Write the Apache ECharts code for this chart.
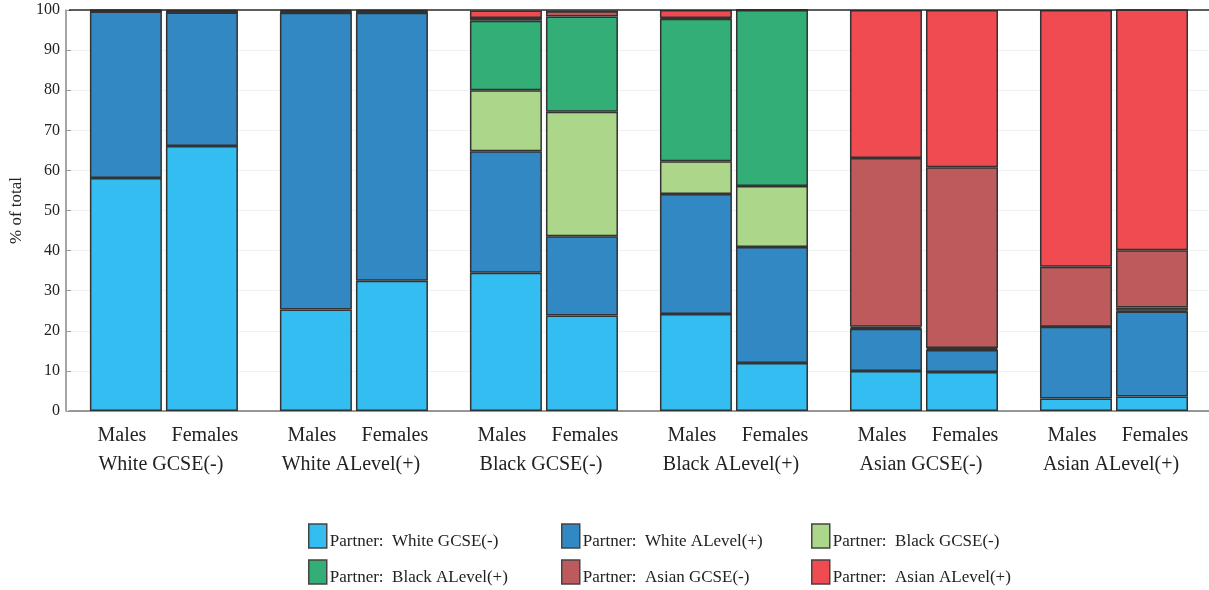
<!DOCTYPE html>
<html>
<head>
<meta charset="utf-8">
<script src="https://cdn.jsdelivr.net/npm/echarts@6/dist/echarts.min.js"></script>
<style>
  html, body { margin: 0; padding: 0; background: #fff; }
  #chart { width: 1209px; height: 590px; }
</style>
</head>
<body>
<div id="chart"></div>
<script>
// Respondent groups (x-axis) and the two sexes shown inside each group
const groups = ['White GCSE(-)', 'White ALevel(+)', 'Black GCSE(-)', 'Black ALevel(+)', 'Asian GCSE(-)', 'Asian ALevel(+)'];
const sexes = ['Males', 'Females'];

// Partner categories (stack order, bottom to top)
const partners = ['Partner: White GCSE(-)', 'Partner: White ALevel(+)', 'Partner: Black GCSE(-)',
                  'Partner: Black ALevel(+)', 'Partner: Asian GCSE(-)', 'Partner: Asian ALevel(+)'];

// % of total, one value per group, males
const malesWhiteGCSE   = [58.1, 25.3, 34.5, 24.2, 10.0,  3.1];
const malesWhiteALevel = [41.5, 74.0, 30.3, 29.9, 10.5, 17.9];
const malesBlackGCSE   = [ 0.1,  0.1, 15.2,  8.2,  0.2,  0.0];
const malesBlackALevel = [ 0.1,  0.2, 17.3, 35.5,  0.3,  0.0];
const malesAsianGCSE   = [ 0.1,  0.2,  0.7,  0.2, 42.1, 15.0];
const malesAsianALevel = [ 0.1,  0.2,  1.9,  2.0, 36.9, 64.0];

// % of total, one value per group, females
const femalesWhiteGCSE   = [66.1, 32.5, 23.8, 12.0,  9.7,  3.6];
const femalesWhiteALevel = [33.3, 66.8, 19.8, 28.9,  5.5, 21.2];
const femalesBlackGCSE   = [ 0.1,  0.1, 31.0, 15.2,  0.2,  0.2];
const femalesBlackALevel = [ 0.1,  0.2, 23.8, 43.9,  0.3,  0.8];
const femalesAsianGCSE   = [ 0.2,  0.2,  1.3,  0.0, 45.1, 14.3];
const femalesAsianALevel = [ 0.2,  0.2,  0.0,  0.0, 39.2, 60.1];

// y-axis ticks
const yTicks = [0, 10, 20, 30, 40, 50, 60, 70, 80, 90, 100];

const colors = ['#33bdf0', '#3288c3', '#acd68a', '#33ae76', '#bc5a5c', '#ef4b51'];
const males = [malesWhiteGCSE, malesWhiteALevel, malesBlackGCSE, malesBlackALevel, malesAsianGCSE, malesAsianALevel];
const females = [femalesWhiteGCSE, femalesWhiteALevel, femalesBlackGCSE, femalesBlackALevel, femalesAsianGCSE, femalesAsianALevel];

const serif = 'Liberation Serif';

function makeSeries(stack, values, withTopLine) {
  return partners.map((name, i) => {
    const s = {
      name: name,
      type: 'bar',
      stack: stack,
      data: values[i],
      barWidth: 72,
      barGap: '5.6%',
      itemStyle: { color: colors[i], borderColor: '#333', borderWidth: 1.5, opacity: 1 },
      emphasis: { disabled: true }
    };
    if (withTopLine && i === 0) {
      s.markLine = {
        silent: true, symbol: 'none', label: { show: false },
        lineStyle: { color: '#2a2a2a', width: 1.5, type: 'solid' },
        data: [{ yAxis: yTicks[yTicks.length - 1] }]
      };
    }
    return s;
  });
}

// Legend laid out as a 3 x 2 table, one legend component per entry;
// the text sits low against its swatch, so an empty spacer line goes above it
const legendCols = [308, 561, 811];
const legendRows = [521, 557];
const legends = partners.map((name, i) => ({
  left: legendCols[i % 3],
  top: legendRows[Math.floor(i / 3)],
  padding: 0,
  itemWidth: 18,
  itemHeight: 24,
  itemGap: 0,
  icon: 'rect',
  data: [name],
  selectedMode: false,
  formatter: function (n) { return '{s| }\n{t|' + n.replace(': ', ':  ') + '}'; },
  textStyle: {
    fontFamily: serif, fontSize: 17, color: '#222', padding: [0, 0, 0, -2],
    rich: {
      s: { fontSize: 10, lineHeight: 12 },
      t: { fontFamily: serif, fontSize: 17, color: '#222', lineHeight: 20 }
    }
  },
  itemStyle: { borderColor: '#444', borderWidth: 1.5 }
}));

const chart = echarts.init(document.getElementById('chart'), null, { renderer: 'canvas' });
chart.setOption({
  animation: false,
  backgroundColor: '#fff',
  grid: { left: 67, right: 0, top: 10, bottom: 179, containLabel: false },
  xAxis: {
    type: 'category',
    data: groups,
    axisLine: { show: true, lineStyle: { color: '#777', width: 1.5 } },
    axisTick: { show: false },
    axisLabel: {
      interval: 0,
      margin: 10,
      fontFamily: serif,
      fontSize: 20,
      color: '#222',
      formatter: function (g) {
        return '{a|' + sexes[0] + '}{b|' + sexes[1] + '}\n{g|' + g + '}';
      },
      rich: {
        a: { width: 82, align: 'center', fontFamily: serif, fontSize: 20, color: '#222', lineHeight: 29 },
        b: { width: 84, align: 'center', fontFamily: serif, fontSize: 20, color: '#222', lineHeight: 29 },
        g: { align: 'center', fontFamily: serif, fontSize: 20, color: '#222', lineHeight: 29, padding: [0, 6, 0, 0] }
      }
    }
  },
  yAxis: {
    type: 'value',
    min: yTicks[0],
    max: yTicks[yTicks.length - 1],
    interval: 10,
    offset: 3,
    name: '% of total',
    nameLocation: 'middle',
    nameRotate: 90,
    nameGap: 37,
    nameTextStyle: { fontFamily: serif, fontSize: 17, color: '#222' },
    axisLine: { show: true, lineStyle: { color: '#888', width: 1.5 } },
    axisTick: { show: true, inside: true, length: 5, lineStyle: { color: '#999' } },
    axisLabel: { fontFamily: serif, fontSize: 16, color: '#222', margin: 6 },
    splitLine: { show: true, lineStyle: { color: '#f0f0f0', width: 1 } }
  },
  legend: legends,
  series: [].concat(makeSeries('m', males, true), makeSeries('f', females, false))
});
</script>
</body>
</html>
